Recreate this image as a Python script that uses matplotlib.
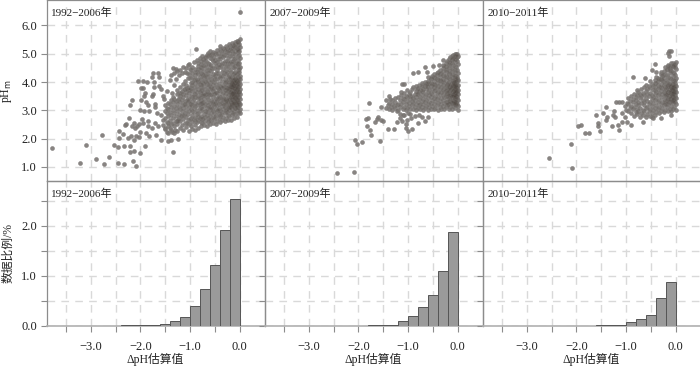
import matplotlib
matplotlib.use('Agg')
import matplotlib.pyplot as plt

plt.rcParams['font.family'] = ['Liberation Serif', 'Noto Sans CJK SC', 'DejaVu Sans']

periods = ['1992−2006年', '2007−2009年', '2010−2011年']

# isolated points
sparse_1 = [(-3.78,1.67),(-3.10,1.76),(-3.21,1.15),(-2.89,1.28),(-2.74,1.09),(-2.78,2.11),(-2.64,1.36),(-2.53,1.77),
    (-2.46,1.14),(-2.33,1.09),(-2.44,2.27),(-2.44,2.01),(-2.45,1.70),(-2.33,1.72),(-2.35,2.15),(-2.31,2.47),(-2.29,2.51),
    (-2.23,2.73),(-2.22,3.20),(-2.18,3.37),(-2.05,4.02),(-1.94,4.02),(-2.22,1.72),(-2.21,1.51),(-2.14,1.55),(-2.16,1.22),
    (-2.10,1.04),(-2.00,1.48),(-1.90,1.74),(-2.26,2.02),(-2.20,2.08),(-2.14,1.96),(-2.09,2.08),(-2.04,2.05),(-2.01,2.22),
    (-2.11,2.37),(-2.14,2.55),(-2.07,2.45),(-2.18,2.43),(-2.04,2.52),(-1.89,2.20),(-1.83,2.10),(-1.69,2.12),(-1.58,1.96),
    (-1.45,1.90),(-1.38,1.95),(-1.24,1.98),(-1.35,1.52),(-2.01,3.02),(-1.92,2.97),(-1.83,2.96),(-1.98,3.37),(-1.88,3.31),
    (-1.84,3.20),(-1.71,3.23),(-1.70,3.11),(-1.66,2.90),(-1.96,2.69),(-1.94,3.79),(-1.98,3.79),(-1.87,4.00),(-1.90,3.61),
    (-1.93,3.49),(-1.77,3.49),(-1.75,3.57),(-1.72,3.82),(-1.72,3.99),(-1.76,4.17),(-1.74,4.31),(-1.64,4.31),(-1.62,4.17),
    (-1.63,3.87),(-1.58,3.76),(-1.47,3.70),(-1.54,3.51),(-1.52,3.40),(-1.36,3.61),(-1.94,2.55),(-1.84,2.61),(-1.84,2.43),
    (-1.77,2.37),(-1.71,2.55),(-1.64,2.43),(-1.54,2.67),(-1.58,2.84),(-1.51,2.37),(-1.41,2.37),(-1.31,2.31),(-1.47,2.25),
    (-1.37,2.25),(-1.54,2.49),(-1.44,2.55),(-1.34,2.55),(-1.27,2.61),(0.0,6.49),(-0.88,5.18),(-0.40,5.29)]
sparse_2 = [(-2.44,0.78),(-2.10,0.83),(-2.07,1.94),(-2.04,1.80),(-1.92,1.88),(-1.56,1.90),(-1.75,2.14),(-1.77,2.31),
    (-1.82,2.43),(-1.78,3.26),(-1.85,2.70),(-1.80,2.74),(-1.67,2.58),(-1.63,2.69),(-1.61,2.78),(-1.55,2.67),(-1.50,2.61),
    (-1.54,3.13),(-1.44,3.35),(-1.38,3.51),(-1.36,3.40),(-1.40,2.34),(-1.28,2.34),(-1.22,2.58),(-1.16,2.73),(-1.10,2.84),
    (-1.03,2.67),(-1.04,2.37),(-1.00,2.28),(-0.92,2.34),(-0.80,2.54),(-0.66,2.61),(-0.59,2.78),(-1.13,3.94),(-1.08,3.94),
    (-0.90,4.33),(-0.81,4.34),(-0.66,4.52),(-0.50,4.55),(-0.61,4.37),(-0.38,4.61),(-0.30,4.78),(-1.05,2.50),(-1.00,2.90),
    (-1.12,2.62),(-0.95,2.72),(-0.86,2.80),(-0.72,2.78)]
sparse_3 = [(-2.55,1.30),(-2.09,0.95),(-2.11,1.81),(-1.97,2.44),(-1.91,2.49),(-1.82,2.21),(-1.74,2.21),(-1.61,2.84),
    (-1.57,2.55),(-1.57,2.43),(-1.53,2.28),(-1.47,2.90),(-1.41,3.10),(-1.39,2.76),(-1.41,2.64),(-1.29,2.45),(-1.27,2.84),
    (-1.23,2.76),(-1.24,2.96),(-1.16,2.49),(-1.14,2.30),(-1.09,2.57),(-1.20,3.30),(-1.14,3.30),(-1.08,3.30),(-0.98,2.57),
    (-0.90,2.49),(-0.87,4.17),(-0.62,4.15),(-0.42,4.65),(-0.47,4.41),(-0.40,4.37),(-0.65,2.60),(-0.48,2.78),(-0.46,2.73),
    (-0.30,2.73),(-0.10,2.82),(-0.14,4.93),(-0.09,5.10),(-0.13,5.08),(-0.15,5.02),(-1.08,2.92),(-1.02,2.78),(-1.00,3.02)]

# dense clouds: estimated y values per x column
cols_1 = {
    -1.50: [2.33,2.71,2.98,3.17], -1.47: [2.58,2.89,3.09], -1.44: [2.21,2.46,2.79,3.03,3.27], -1.41: [2.64,2.93,3.21,4.07],
    -1.38: [2.29,2.53,2.84,3.11,3.38,4.24], -1.35: [2.71,3.02,3.29,3.47,4.49], -1.32: [2.19,2.43,2.91,3.16,3.41,3.88,4.33],
    -1.29: [2.62,2.81,3.07,3.33,4.12,4.46], -1.26: [2.27,2.52,2.97,3.22,3.56,3.73,4.38], -1.23: [2.74,2.88,3.13,3.44,3.62,4.26],
    -1.20: [2.37,2.61,3.04,3.28,3.51,3.81,4.43], -1.17: [2.48,2.83,2.96,3.19,3.37,3.69,4.31], -1.14: [2.31,2.69,3.09,3.46,3.58,3.93,4.52],
    -1.11: [2.56,2.92,3.24,3.34,3.77,4.02,4.37], -1.08: [2.41,2.78,3.01,3.16,3.53,3.64,3.89,4.48], -1.05: [2.66,2.87,3.29,3.43,3.72,4.14,4.59],
    -1.02: [2.26,2.51,2.97,3.12,3.38,3.61,3.84,4.29,4.63], -0.99: [2.44,2.73,3.06,3.22,3.49,3.79,3.98,4.41], -0.96: [2.34,2.59,2.83,3.17,3.33,3.67,3.91,4.18,4.53],
    -0.93: [2.68,2.93,3.08,3.41,3.56,3.83,4.07,4.72], -0.90: [2.29,2.49,2.77,3.26,3.46,3.71,3.97,4.24,4.47], -0.87: [2.57,2.86,3.02,3.18,3.63,3.87,4.11,4.36,4.79],
    -0.84: [2.38,2.64,2.91,3.31,3.52,3.76,4.02,4.58], -0.81: [2.72,3.07,3.23,3.44,3.66,3.94,4.19,4.43,4.86], -0.78: [2.43,2.81,2.97,3.13,3.37,3.58,3.81,4.09,4.64],
    -0.75: [2.54,2.69,3.04,3.27,3.49,3.73,3.99,4.28,4.51,4.91], -0.72: [2.47,2.88,3.16,3.39,3.62,3.86,4.14,4.38,4.76], -0.69: [2.61,2.76,2.99,3.22,3.54,3.77,4.03,4.23,4.59,4.88],
    -0.66: [2.46,2.84,3.08,3.31,3.46,3.69,3.92,4.17,4.44,4.97], -0.63: [2.58,2.73,2.93,3.19,3.41,3.64,3.83,4.08,4.31,4.69,5.04], -0.60: [2.51,2.79,3.03,3.26,3.53,3.74,3.97,4.21,4.53,4.84,5.11],
    -0.57: [2.66,2.89,3.12,3.36,3.58,3.81,4.12,4.39,4.61,4.94], -0.54: [2.55,2.77,2.98,3.23,3.47,3.69,3.89,4.27,4.74,5.06], -0.51: [2.69,2.92,3.14,3.32,3.56,3.78,4.01,4.18,4.48,4.87],
    -0.48: [2.53,2.83,3.06,3.28,3.43,3.66,3.93,4.33,4.57,4.99], -0.45: [2.62,2.96,3.19,3.37,3.61,3.84,4.09,4.42,4.71,5.12], -0.42: [2.74,2.87,3.09,3.24,3.51,3.72,3.96,4.23,4.63,4.91],
    -0.39: [2.57,2.81,3.01,3.33,3.47,3.68,3.87,4.14,4.52,4.81,5.17], -0.36: [2.67,2.94,3.16,3.39,3.59,3.78,4.03,4.36,4.69,5.03], -0.33: [2.76,3.06,3.27,3.44,3.63,3.91,4.21,4.47,4.88,5.21],
    -0.30: [2.61,2.91,3.12,3.31,3.53,3.73,3.97,4.11,4.58,4.76,5.09], -0.27: [2.72,2.98,3.21,3.41,3.62,3.83,4.04,4.29,4.41,4.97,5.27], -0.24: [2.64,2.84,3.07,3.26,3.49,3.69,3.89,4.17,4.66,4.84,5.14],
    -0.21: [2.79,3.02,3.18,3.36,3.56,3.77,3.99,4.26,4.53,5.02,5.33], -0.18: [2.66,2.94,3.11,3.29,3.46,3.64,3.87,4.09,4.37,4.73,5.22], -0.15: [2.82,3.04,3.23,3.41,3.58,3.81,3.96,4.19,4.62,4.91,5.09,5.37],
    -0.12: [2.71,2.97,3.14,3.32,3.51,3.69,3.91,4.07,4.31,4.49,4.82,5.28], -0.09: [2.86,3.08,3.26,3.44,3.61,3.79,3.98,4.13,4.56,4.99,5.41], -0.06: [2.78,3.01,3.17,3.36,3.53,3.73,3.88,4.04,4.27,4.68,5.16,5.46],
    -0.03: [2.91,3.11,3.29,3.47,3.66,3.83,3.97,4.16,4.41,4.77,5.06,5.31], 0.00: [2.89,3.06,3.21,3.39,3.57,3.74,3.92,4.09,4.23,4.52,4.86,5.24,5.51],
    -0.28: [3.03,3.38,3.71,4.01], -0.22: [3.11,3.43,3.83,4.12], -0.16: [3.17,3.52,3.72,3.94], -0.13: [3.28,3.61,3.84,4.02], -0.10: [3.09,3.42,3.76,4.11],
    -0.07: [3.21,3.48,3.68,3.93], -0.04: [3.33,3.59,3.81,4.06], -0.01: [3.18,3.46,3.69,3.99], -0.02: [3.27,3.63,3.86,4.14], -0.05: [3.13,3.39,3.77,4.00],
    -0.08: [3.31,3.56,3.86,4.07], -0.11: [3.24,3.58,3.79,3.98], -0.14: [3.37,3.66,3.89,4.08], -0.17: [3.26,3.57,3.82,4.01], -0.19: [3.41,3.74,3.93],
    # filling the gaps in the upper part of the cloud
    -1.25: [2.66,3.38], -1.19: [2.79,3.62], -1.13: [2.84,3.21,3.74], -1.07: [2.56,3.36,3.78,4.31], -1.01: [2.68,3.24,3.73,4.13,4.46],
    -0.97: [2.96,3.46,4.01,4.31], -0.91: [2.63,3.14,3.58,4.11,4.36], -0.85: [2.78,3.43,3.99,4.27,4.47,4.68], -0.79: [2.58,3.26,3.71,3.88,4.31,4.54,4.74],
    -0.73: [2.73,3.29,3.53,3.96,4.24,4.61,4.83], -0.67: [2.96,3.57,3.99,4.29,4.53,4.73,4.89], -0.61: [2.66,3.12,3.58,3.89,4.41,4.63,4.94],
    -0.55: [3.06,3.31,3.76,4.03,4.49,4.83,4.98], -0.49: [2.76,3.21,3.62,4.11,4.24,4.66,4.78,5.03], -0.43: [3.01,3.43,3.79,4.31,4.53,4.81,5.01],
    -0.37: [2.86,3.26,3.84,4.23,4.59,4.93,5.11], -0.31: [3.19,3.39,3.84,4.33,4.67,4.97,5.16], -0.25: [2.93,3.33,3.78,4.36,4.57,4.76,5.06,5.21],
    -0.20: [3.12,3.63,4.17,4.44,4.68,4.93,5.13,5.27], -0.145: [2.91,3.47,4.29,4.53,4.76,5.01,5.19,5.31], -0.09: [2.86,3.08,3.26,3.44,3.61,3.79,3.98,4.13,4.56,4.99,5.41],
    -0.085: [4.23,4.37,4.67,4.86,5.09,5.23,5.33], -0.025: [4.31,4.52,4.63,4.91,5.14,5.21,5.41,5.44], -0.005: [2.97,4.34,4.47,4.68,4.97,5.11,5.33],
}
cols_2 = {
    -1.44: [3.09], -1.41: [3.18], -1.38: [3.03,3.27], -1.35: [3.12], -1.32: [3.01,3.22,3.36], -1.29: [3.14], -1.26: [3.07,3.31,3.44],
    -1.23: [3.17,2.96], -1.20: [3.02,3.24,3.48], -1.17: [3.11,3.37,2.87], -1.14: [3.21,3.53,3.66], -1.11: [3.04,3.29,3.44], -1.08: [3.13,3.39,3.61,2.83],
    -1.05: [3.01,3.23,3.52], -1.02: [3.08,3.34,3.71,3.47], -0.99: [3.16,3.27,3.58], -0.96: [3.03,3.41,3.64,2.88], -0.93: [3.19,3.33,3.74,3.51],
    -0.90: [3.06,3.26,3.43,3.81], -0.87: [3.13,3.37,3.59], -0.84: [3.01,3.21,3.48,3.69,3.87], -0.81: [3.09,3.31,3.56,3.78], -0.78: [3.17,3.39,3.63,3.91,2.85],
    -0.75: [3.04,3.24,3.47,3.71], -0.72: [3.12,3.33,3.54,3.83,3.96], -0.69: [3.01,3.22,3.41,3.64,3.76], -0.66: [3.08,3.29,3.49,3.87,4.01], -0.63: [3.16,3.36,3.58,3.74,3.93],
    -0.60: [3.02,3.21,3.44,3.66,3.81,4.05,4.16], -0.57: [3.11,3.31,3.53,3.72,3.98], -0.54: [3.06,3.26,3.47,3.62,3.86,4.09], -0.51: [3.14,3.37,3.57,3.76,3.94,4.21],
    -0.48: [3.03,3.23,3.43,3.68,3.83,4.03,4.27], -0.45: [3.09,3.32,3.52,3.71,3.91,4.13], -0.42: [3.18,3.41,3.61,3.79,3.97,4.24], -0.39: [3.01,3.27,3.47,3.66,3.86,4.08,4.37],
    -0.36: [3.12,3.34,3.56,3.74,3.93,4.19,4.44], -0.33: [3.06,3.22,3.42,3.63,3.82,4.02,4.31], -0.30: [3.16,3.36,3.53,3.71,3.89,4.12,4.49,4.61], -0.27: [3.03,3.26,3.46,3.66,3.79,3.97,4.23,4.56],
    -0.24: [3.11,3.31,3.51,3.69,3.84,4.06,4.36,4.68], -0.21: [3.19,3.39,3.58,3.76,3.92,4.16,4.46,4.74], -0.18: [3.06,3.24,3.44,3.63,3.81,4.01,4.27,4.59,4.83], -0.15: [3.13,3.33,3.52,3.71,3.87,4.09,4.39,4.66,4.89],
    -0.12: [3.04,3.27,3.47,3.61,3.78,3.96,4.18,4.51,4.77,4.93], -0.09: [3.16,3.36,3.54,3.69,3.86,4.04,4.29,4.61,4.86,4.97], -0.06: [3.09,3.23,3.42,3.59,3.76,3.91,4.13,4.43,4.72,4.98], -0.03: [3.18,3.31,3.49,3.66,3.83,3.99,4.22,4.54,4.82,5.00],
    0.00: [3.01,3.14,3.37,3.56,3.73,3.89,4.07,4.33,4.64,4.93], -0.22: [3.28,3.62,3.88], -0.19: [3.21,3.49,3.73,3.97], -0.16: [3.37,3.58,3.83], -0.13: [3.28,3.54,3.74,3.94],
    -0.10: [3.22,3.46,3.67,3.89,4.08], -0.07: [3.33,3.56,3.81,4.01], -0.04: [3.26,3.52,3.72,3.94], -0.01: [3.39,3.61,3.79,4.03], -0.02: [3.24,3.46,3.68,3.86,4.11],
    -0.05: [3.38,3.64,3.87,4.06], -0.08: [3.29,3.51,3.73,3.96],
    # filling the gaps
    -0.97: [3.49], -0.83: [3.58,3.77], -0.71: [3.68,3.88], -0.61: [3.86,3.98], -0.53: [3.96,4.14], -0.47: [3.93,4.19], -0.41: [4.09,4.31], -0.35: [4.07,4.28],
    -0.29: [4.02,4.24,4.39], -0.23: [4.21,4.43,4.58], -0.17: [4.14,4.33,4.52,4.71], -0.11: [4.26,4.43,4.68,4.81], -0.055: [4.21,4.34,4.58,4.81,4.91], -0.015: [4.17,4.41,4.73,4.87,4.98],
}
cols_3 = {
    -1.02: [3.14], -0.99: [3.27], -0.96: [2.96,3.21,3.44], -0.93: [3.08,3.33], -0.90: [2.89,3.16,3.52], -0.87: [3.03,3.29,3.41], -0.84: [2.81,3.11,3.58],
    -0.81: [2.94,3.23,3.37,3.47], -0.78: [2.87,3.06,3.54,3.71], -0.75: [2.99,3.18,3.31,3.64], -0.72: [2.77,3.09,3.43,3.57], -0.69: [2.91,3.26,3.49,3.74],
    -0.66: [2.83,3.02,3.36,3.61], -0.63: [2.96,3.17,3.29,3.53,3.82], -0.60: [2.78,3.07,3.44,3.67,3.91], -0.57: [2.88,3.13,3.34,3.57,3.76], -0.54: [2.97,3.23,3.49,3.86],
    -0.51: [2.81,3.04,3.31,3.62,3.79,4.02], -0.48: [2.91,3.16,3.41,3.53,3.94], -0.45: [3.01,3.26,3.47,3.71,3.87], -0.42: [2.84,3.09,3.36,3.59,3.81,4.08], -0.39: [2.94,3.19,3.43,3.66,3.96,4.19],
    -0.36: [3.04,3.29,3.53,3.76,4.03], -0.33: [2.89,3.13,3.38,3.61,3.84,4.12], -0.30: [2.98,3.23,3.47,3.69,3.93,4.27,4.34], -0.27: [3.07,3.31,3.56,3.79,4.06,4.21], -0.24: [2.93,3.17,3.41,3.63,3.88,4.14,4.39],
    -0.21: [3.02,3.27,3.49,3.71,3.97,4.28,4.52], -0.18: [3.11,3.36,3.58,3.81,4.07,4.43], -0.15: [2.99,3.21,3.44,3.66,3.89,4.18,4.57,4.61], -0.12: [3.06,3.31,3.53,3.74,3.98,4.31,4.49],
    -0.09: [2.96,3.16,3.39,3.62,3.83,4.09,4.38,4.66], -0.06: [3.04,3.26,3.48,3.69,3.93,4.21,4.54,4.68], -0.03: [3.12,3.34,3.57,3.78,4.02,4.33,4.61], 0.00: [3.01,3.21,3.43,3.64,3.87,4.14,4.47,4.71],
    -0.22: [3.33,3.59,3.82], -0.19: [3.24,3.53,3.76], -0.16: [3.39,3.63,3.86], -0.13: [3.28,3.51,3.71,3.92], -0.10: [3.43,3.67,3.87], -0.07: [3.33,3.58,3.79],
    -0.04: [3.41,3.64,3.84], -0.01: [3.31,3.54,3.74,3.96], -0.02: [3.47,3.69,3.91], -0.05: [3.37,3.61,3.82], -0.08: [3.49,3.73,3.94],
    # filling the gaps
    -0.41: [3.73,3.98], -0.35: [3.91,4.14], -0.29: [3.81,4.09], -0.25: [4.02,4.26], -0.17: [3.99,4.26,4.47], -0.11: [4.14,4.41,4.56], -0.055: [4.08,4.36,4.58], -0.015: [4.07,4.24,4.53,4.64],
}
sparse_all = [sparse_1, sparse_2, sparse_3]
cols_all = [cols_1, cols_2, cols_3]

# histogram: right bin edge goes from 0.0 to the left, bin width 0.2
bin_width = 0.2
hist_1 = [2.55,1.92,1.23,0.75,0.40,0.19,0.10,0.05,0.03,0.025,0.02,0.015]
hist_2 = [1.88,1.11,0.63,0.38,0.20,0.11,0.03,0.02,0.015]
hist_3 = [0.89,0.56,0.23,0.15,0.08,0.03,0.02,0.015]
hist_all = [hist_1, hist_2, hist_3]

xticks = [-3.5,-3.0,-2.5,-2.0,-1.5,-1.0,-0.5,0.0]
xlabels = ['', '−3.0', '', '−2.0', '', '−1.0', '', '0.0']
top_yticks = [1,2,3,4,5,6]
bot_yticks = [0,0.5,1,1.5,2,2.5]
bot_ylabels = ['0.0','','1.0','','2.0','']

W, H = 700, 366
lefts = [46.5, 264.5, 482.5]
pw = 218
line_c = '#8c8c8c'
grid_c = '#d9d9d9'
text_c = '#222222'

fig = plt.figure(figsize=(7.0, 3.66), dpi=100)

for i in range(3):
    ax = fig.add_axes([lefts[i]/W, (H-181)/H, pw/W, 181/H])
    bx = fig.add_axes([lefts[i]/W, (H-326)/H, pw/W, 145/H])

    xs = [p[0] for p in sparse_all[i]]
    ys = [p[1] for p in sparse_all[i]]
    for cx in cols_all[i]:
        for cy in cols_all[i][cx]:
            xs.append(cx)
            ys.append(cy)
    ax.scatter(xs, ys, s=11, c='#969492', linewidths=0, zorder=3)
    ax.scatter(xs, ys, s=11, c='#2a2018', alpha=0.13, linewidths=0, zorder=4)
    ax.set_xlim(-3.895, 0.5)
    ax.set_ylim(0.5, 6.9)
    ax.set_yticks(top_yticks)
    if i == 0:
        ax.set_yticklabels(['%.1f' % v for v in top_yticks])
        fig.text(6.5/W, (H-91)/H, 'pH$_{\\mathrm{m}}$', fontsize=8.5, rotation=90, ha='center', va='center', color=text_c)
    else:
        ax.set_yticklabels([])
    ax.set_xticks(xticks)
    ax.tick_params(axis='x', length=0, labelbottom=False)
    ax.text(0.022, 0.96, periods[i], transform=ax.transAxes, fontsize=8, va='top', color=text_c)

    edges = [-bin_width*(k+1) for k in range(len(hist_all[i]))]
    bx.bar(edges, hist_all[i], width=bin_width, align='edge', color='#9a9a9a', edgecolor='#555555', linewidth=0.7, zorder=3)
    bx.set_xlim(-3.895, 0.5)
    bx.set_ylim(0, 2.9)
    bx.set_yticks(bot_yticks)
    if i == 0:
        bx.set_yticklabels(bot_ylabels)
        fig.text(8/W, (H-253)/H, '数据比例/%', fontsize=8.5, rotation=90, ha='center', va='center', color=text_c)
    else:
        bx.set_yticklabels([])
    bx.set_xticks(xticks)
    bx.set_xticklabels(xlabels)
    fig.text((lefts[i]+109)/W, (H-359.5)/H, 'ΔpH估算值', fontsize=8.5, ha='center', va='center', color=text_c)
    bx.text(0.022, 0.945, periods[i], transform=bx.transAxes, fontsize=8, va='top', color=text_c)

    for a in (ax, bx):
        a.grid(True, color=grid_c, linewidth=1.0, linestyle=(0, (5.5, 4.5)), zorder=0)
        a.set_axisbelow(True)
        for s in a.spines.values():
            s.set_color(line_c)
            s.set_linewidth(0.9)
        a.tick_params(axis='y', length=4.3, width=0.8, color=line_c, labelsize=9, labelcolor=text_c, pad=2.5)
    bx.spines['bottom'].set_color('#b0b0b0')
    bx.spines['bottom'].set_linewidth(1.2)
    bx.tick_params(axis='x', length=4.3, width=0.8, color=line_c, labelsize=9, labelcolor=text_c, pad=6.5)
    bx.patch.set_alpha(0)

fig.savefig('out.png', dpi=100)
